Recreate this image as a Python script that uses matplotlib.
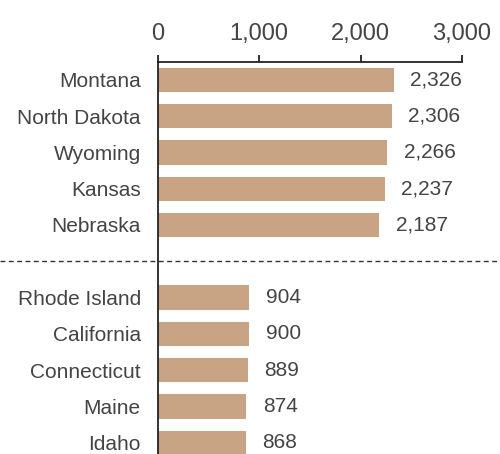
import numpy as np
import matplotlib
matplotlib.use("Agg")
import matplotlib.pyplot as plt
import matplotlib.transforms as mtransforms

plt.rcParams['font.family'] = ['Liberation Sans', 'DejaVu Sans']

# Highest and lowest states
top_states = ["Montana", "North Dakota", "Wyoming", "Kansas", "Nebraska"]
top_values = [2326, 2306, 2266, 2237, 2187]
bottom_states = ["Rhode Island", "California", "Connecticut", "Maine", "Idaho"]
bottom_values = [904, 900, 889, 874, 868]
x_ticks = [0, 1000, 2000, 3000]

bar_color = "#C8A384"
text_color = "#444444"

states = top_states + bottom_states
values = top_values + bottom_values
# one empty slot between the two groups
positions = np.concatenate([np.arange(len(top_states)),
                            np.arange(len(bottom_states)) + len(top_states) + 1])
gap_pos = len(top_states)

W, H = 500, 454
fig = plt.figure(figsize=(W / 100, H / 100), dpi=100)
ax = fig.add_axes([157.5 / W, 0, 304.5 / W, (H - 62) / H])

ax.barh(positions, values, height=0.67, color=bar_color, edgecolor="none")

ax.set_xlim(0, 3000)
ax.set_ylim(10.31, -0.49)

ax.set_yticks(positions)
ax.set_yticklabels(states)
ax.set_xticks(x_ticks)
ax.set_xticklabels([f"{v:,}" for v in x_ticks])

ax.xaxis.tick_top()
ax.tick_params(axis="x", direction="out", length=5, width=1.3, color="#222222",
               labelsize=17, labelcolor=text_color, pad=7)
ax.tick_params(axis="y", length=0, labelsize=15, labelcolor=text_color, pad=12)

for side in ["right", "bottom"]:
    ax.spines[side].set_visible(False)
for side in ["top", "left"]:
    ax.spines[side].set_linewidth(1.3)
    ax.spines[side].set_color("#222222")

for p, v in zip(positions, values):
    ax.annotate(f"{v:,}", xy=(v, p), xytext=(12, 0), textcoords="offset points",
                ha="left", va="center", fontsize=15, color=text_color)

# dashed separator across the full width
trans = mtransforms.blended_transform_factory(fig.transFigure, ax.transData)
ax.plot([0, 1], [gap_pos, gap_pos], transform=trans, clip_on=False,
        color="#333333", linewidth=1.0, linestyle=(0, (3.5, 2.5)))

fig.savefig("out.png", dpi=100)
